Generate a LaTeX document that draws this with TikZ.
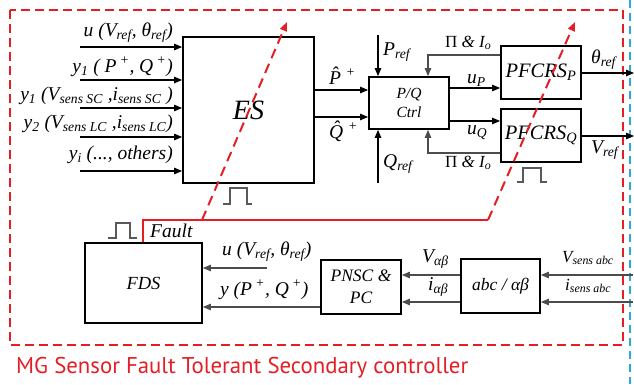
\documentclass[tikz,border=0pt]{standalone}
\usepackage{fontspec}
\setmainfont{Liberation Serif}
\newfontfamily\titlefont{PT Sans}
\usetikzlibrary{arrows.meta,calc}
\definecolor{mgred}{HTML}{E31E24}
\definecolor{mgblue}{HTML}{29ABE2}
\newcommand{\lsub}[1]{\textsubscript{\textit{#1}}}
\newcommand{\lsup}[1]{\textsuperscript{\textit{#1}}}
\newcommand{\lbl}{\fontsize{17}{19}\selectfont\itshape}
\newcommand{\lblbig}{\fontsize{19.5}{21}\selectfont\itshape}
\begin{document}
\begin{tikzpicture}[x=1pt,y=-1pt,
  box/.style={draw, line width=1.8pt, inner sep=0pt, align=center},
  arr/.style={-{Triangle[length=8pt,width=6.5pt]}, line width=1.1pt},
  garr/.style={arr, draw=black!70},
  lab/.style={inner sep=0pt, font=\lbl},
  labbig/.style={inner sep=0pt, font=\lblbig},
  pulse/.style={draw=black!65, line width=1.2pt},
  reddash/.style={draw=mgred, line width=2.6pt, dash pattern=on 9pt off 5pt},
  redarr/.style={draw=mgred, line width=2pt, dash pattern=on 10pt off 6pt, -{Triangle[length=9pt,width=7pt]}}
]
\useasboundingbox (0,0) rectangle (634,384);
% frames
\draw[reddash] (10,10) rectangle (623,345);
\draw[draw=mgblue, line width=2.5pt, dash pattern=on 8pt off 5pt] (630,0) -- (630,384);

% boxes
\node[box, minimum width=131pt, minimum height=146pt, font=\fontsize{28}{30}\selectfont\itshape] (ES) at (248.5,110) {ES};
\node[box, minimum width=80pt, minimum height=52pt, font=\fontsize{15.5}{19}\selectfont\itshape] (PQ) at (409,103) {P/Q\\Ctrl};
\node[box, minimum width=80pt, minimum height=53pt, font=\fontsize{20.5}{22}\selectfont\itshape] (PFP) at (541,72.5) {PFCRS\lsub{P}};
\node[box, minimum width=80pt, minimum height=53pt, font=\fontsize{20.5}{22}\selectfont\itshape] (PFQ) at (541,135.5) {PFCRS\lsub{Q}};
\node[box, minimum width=117pt, minimum height=80pt, font=\fontsize{18.5}{20}\selectfont\itshape] (FDS) at (143.5,283) {FDS};
\node[box, minimum width=80pt, minimum height=54pt, font=\fontsize{17.5}{22}\selectfont\itshape] (PNSC) at (361,287) {PNSC \&\\PC};
\node[box, minimum width=79pt, minimum height=54pt, font=\fontsize{17.5}{20}\selectfont\itshape] (ABC) at (500.5,286) {abc / αβ};

% inputs to ES
\foreach \yy/\nm in {47/i1,80/i2,108/i3,137/i4,171/i5}{
  \coordinate (\nm) at (80,\yy);
  \draw[arr] (\nm) -- (\nm -| ES.west);
}
\node[labbig, anchor=base east] (l1) at (173,36) {u (V\lsub{ref}, θ\lsub{ref})};
\node[labbig, anchor=base east] (l2) at (173,72) {y\lsub{1} ( P\,\lsup{+}, Q\,\lsup{+})};
\node[labbig, anchor=base east] (l3) at (173,100) {y\lsub{1} (V\lsub{sens SC} ,i\lsub{sens SC} )};
\node[labbig, anchor=base east] (l4) at (173,128) {y\lsub{2} (V\lsub{sens LC} ,i\lsub{sens LC})};
\node[labbig, anchor=base east] (l5) at (173,159) {y\lsub{i} (..., others)};

% ES -> PQ
\coordinate (ph) at (0,90);
\coordinate (qh) at (0,117);
\draw[arr] (ES.east |- ph) -- (PQ.west |- ph);
\draw[arr] (ES.east |- qh) -- (PQ.west |- qh);
\node[labbig, anchor=base west] (lph) at (329,84) {\^{P}\ \lsup{+}};
\node[labbig, anchor=base west] (lqh) at (329,138) {\^{Q}\ \lsup{+}};

% Pref, Qref
\coordinate (pref) at (378,35);
\coordinate (qref) at (378,183);
\draw[arr] (pref) -- (pref |- PQ.north);
\draw[arr] (qref) -- (qref |- PQ.south);
\node[labbig, anchor=base west] (lpref) at (383,55) {P\lsub{ref}};
\node[labbig, anchor=base west] (lqref) at (383,167) {Q\lsub{ref}};

% feedback
\coordinate (fbp) at (428,55);
\coordinate (fbq) at (428,153);
\draw[garr] (PFP.west |- fbp) -| (fbp |- PQ.north);
\draw[garr] (PFQ.west |- fbq) -| (fbq |- PQ.south);
\node[lab, anchor=base west] (lfbp) at (445,47) {{\upshape Π} \& I\lsub{o}};
\node[lab, anchor=base west] (lfbq) at (445,167) {{\upshape Π} \& I\lsub{o}};

% uP, uQ
\coordinate (up) at (0,88);
\coordinate (uq) at (0,121);
\draw[arr] (PQ.east |- up) -- (PFP.west |- up);
\draw[arr] (PQ.east |- uq) -- (PFQ.west |- uq);
\node[labbig, anchor=base west] (lup) at (467,83) {u\lsub{P}};
\node[labbig, anchor=base west] (luq) at (467,134) {u\lsub{Q}};

% outputs
\coordinate (thout) at (634,73);
\coordinate (vout) at (634,136);
\draw[arr] (PFP.east |- thout) -- (thout);
\draw[arr] (PFQ.east |- vout) -- (vout);
\node[labbig, anchor=base west] (lth) at (591,63) {θ\lsub{ref}};
\node[labbig, anchor=base west] (lvr) at (591,153) {V\lsub{ref}};

% FDS inputs
\coordinate (fu) at (267,268);
\coordinate (fy) at (0,307);
\draw[garr] (fu) -- (fu -| FDS.east);
\draw[garr] (PNSC.west |- fy) -- (FDS.east |- fy);
\node[labbig, anchor=base west] (lfu) at (222,255) {u (V\lsub{ref}, θ\lsub{ref})};
\node[labbig, anchor=base west] (lfy) at (220,295) {y (P\,\lsup{+}, Q\,\lsup{+})};

% abc -> PNSC
\coordinate (va) at (0,275);
\coordinate (ia) at (0,302);
\draw[garr] (ABC.west |- va) -- (PNSC.east |- va);
\draw[garr] (ABC.west |- ia) -- (PNSC.east |- ia);
\node[labbig, anchor=base west] (lva) at (422,262) {V\lsub{αβ}};
\node[labbig, anchor=base west] (lia) at (428,290) {i\lsub{αβ}};

% sensor inputs
\coordinate (vs) at (633,275);
\coordinate (is) at (633,302);
\draw[garr] (vs) -- (vs -| ABC.east);
\draw[garr] (is) -- (is -| ABC.east);
\node[lab, anchor=base west] (lvs) at (562,262) {V\lsub{sens abc}};
\node[lab, anchor=base west] (lis) at (565,290) {i\lsub{sens abc}};

% fault path
\coordinate (fk) at (143,220);
\coordinate (fk2) at (488,220);
\draw[draw=mgred, line width=1.6pt] (fk |- FDS.north) -- (fk) -- (fk2);
\node[labbig, anchor=base west] (lfault) at (150,237) {Fault};
\coordinate (d1a) at (202,220);
\coordinate (d1b) at (287,22);
\coordinate (d2b) at (575,22);
\draw[redarr] (d1a) -- (d1b);
\draw[redarr] (fk2) -- (d2b);

% pulses
\draw[pulse] (223,204) -- (230,204) -- (230,188) -- (247,188) -- (247,204) -- (252,204);
\draw[pulse] (108,238) -- (116,238) -- (116,223) -- (130,223) -- (130,238) -- (137,238);
\draw[pulse] (517,182) -- (523,182) -- (523,168) -- (541,168) -- (541,182) -- (547,182);

% title
\node[inner sep=0pt, anchor=base west, text=mgred, font=\titlefont\fontsize{22.8}{25}\selectfont] (title) at (16,373) {MG Sensor Fault Tolerant Secondary controller};
\end{tikzpicture}
\end{document}
